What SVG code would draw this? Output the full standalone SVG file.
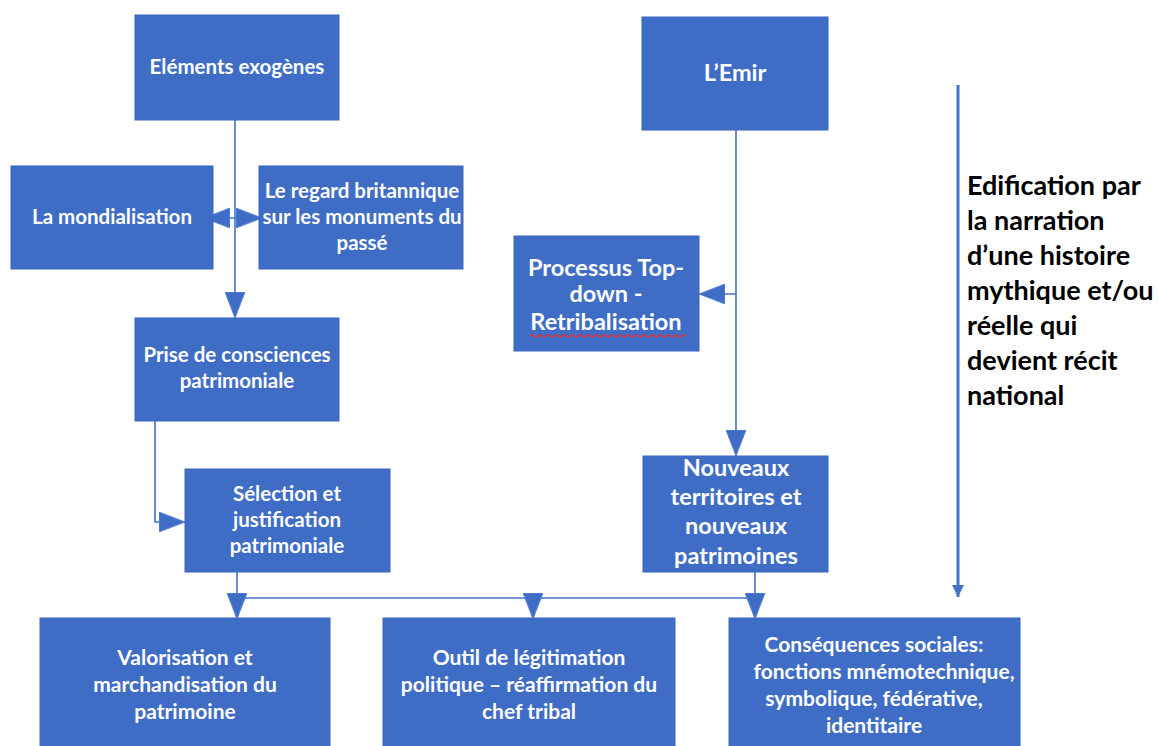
<svg xmlns="http://www.w3.org/2000/svg" width="1159" height="746" viewBox="0 0 1159 746">
<style>
.box{fill:#3F6DC6;stroke:#3A66BC;stroke-width:1}
.t{font-family:Lato,"Liberation Sans",sans-serif;font-weight:700;fill:#fff;text-anchor:middle;font-size:20.5px}
.t2{font-size:23.5px}
.b{font-size:21px}
.c{stroke:#4472C4;stroke-width:1.6;fill:none}
.side{font-family:Lato,"Liberation Sans",sans-serif;font-weight:700;fill:#000;font-size:27px}
</style>
<defs>
<marker id="tri" viewBox="0 0 26 20" refX="26" refY="10" markerWidth="26" markerHeight="20" markerUnits="userSpaceOnUse" orient="auto-start-reverse">
<path d="M0,0 L26,10 L0,20 z" fill="#3F6DC6" stroke="#5A86D6" stroke-width="1"/>
</marker>
<marker id="small" viewBox="0 0 12 12" refX="12" refY="6" markerWidth="12" markerHeight="12" markerUnits="userSpaceOnUse" orient="auto">
<path d="M0,0 L12,6 L0,12 z" fill="#4472C4"/>
</marker>
</defs>
<rect width="1159" height="746" fill="#fff"/>
<g id="connectors">
<path class="c" d="M235,120 V318" marker-end="url(#tri)"/>
<path class="c" d="M204,218 H262" marker-start="url(#tri)" marker-end="url(#tri)"/>
<path class="c" d="M736,130 V456" marker-end="url(#tri)"/>
<path class="c" d="M736,294 H699" marker-end="url(#tri)"/>
<path class="c" d="M155,421 V522 H185" marker-end="url(#tri)"/>
<path class="c" d="M237,572 V619" marker-end="url(#tri)"/>
<path class="c" d="M237,598 H755"/>
<path class="c" d="M533,598 V619" marker-end="url(#tri)"/>
<path class="c" d="M755,572 V619" marker-end="url(#tri)"/>
<path d="M958,85 V597" stroke="#4472C4" stroke-width="3" fill="none" marker-end="url(#small)"/>
</g>
<g id="n-exogenes"><rect class="box" x="135" y="15" width="204" height="105"/><text class="t" x="237" y="74">Eléments exogènes</text></g>
<g id="n-emir"><rect class="box" x="642" y="17" width="186" height="113"/><text class="t t2" x="735" y="81">L’Emir</text></g>
<g id="n-mondialisation"><rect class="box" x="11" y="166" width="202" height="103"/><text class="t" x="112" y="224">La mondialisation</text></g>
<g id="n-regard"><rect class="box" x="259" y="166" width="204" height="103"/><text class="t" x="362" y="198">Le regard britannique</text><text class="t" x="362" y="224">sur les monuments du</text><text class="t" x="362" y="250">passé</text></g>
<g id="n-processus"><rect class="box" x="514" y="236" width="185" height="115"/><text class="t t2" x="606" y="276">Processus Top-</text><text class="t t2" x="606" y="302">down -</text><text class="t t2" x="606" y="330">Retribalisation</text><path d="M530,336 q2,-2 4,0 t4,0 t4,0 t4,0 t4,0 t4,0 t4,0 t4,0 t4,0 t4,0 t4,0 t4,0 t4,0 t4,0 t4,0 t4,0 t4,0 t4,0 t4,0 t4,0 t4,0 t4,0 t4,0 t4,0 t4,0 t4,0 t4,0 t4,0 t4,0 t4,0 t4,0 t4,0 t4,0 t4,0 t4,0 t4,0 t4,0 t4,0 t4,0" fill="none" stroke="#E0303A" stroke-width="1.2"/></g>
<g id="n-prise"><rect class="box" x="135" y="318" width="204" height="103"/><text class="t" x="237" y="362">Prise de consciences</text><text class="t" x="237" y="388">patrimoniale</text></g>
<g id="n-selection"><rect class="box" x="185" y="469" width="205" height="103"/><text class="t" x="287" y="501">Sélection et</text><text class="t" x="287" y="527">justification</text><text class="t" x="287" y="553">patrimoniale</text></g>
<g id="n-nouveaux"><rect class="box" x="643" y="456" width="185" height="116"/><text class="t t2" x="736" y="476">Nouveaux</text><text class="t t2" x="736" y="505">territoires et</text><text class="t t2" x="736" y="534">nouveaux</text><text class="t t2" x="736" y="564">patrimoines</text></g>
<g id="n-valorisation"><rect class="box" x="40" y="618" width="290" height="130"/><text class="t b" x="185" y="665">Valorisation et</text><text class="t b" x="185" y="692">marchandisation du</text><text class="t b" x="185" y="719">patrimoine</text></g>
<g id="n-outil"><rect class="box" x="383" y="618" width="292" height="130"/><text class="t b" x="529" y="665">Outil de légitimation</text><text class="t b" x="529" y="692">politique – réaffirmation du</text><text class="t b" x="529" y="719">chef tribal</text></g>
<g id="n-consequences"><rect class="box" x="729" y="618" width="291" height="130"/><text class="t b" x="874" y="652">Conséquences sociales:</text><text class="t b" x="884" y="679">fonctions mnémotechnique,</text><text class="t b" x="874" y="706">symbolique, fédérative,</text><text class="t b" x="874" y="733">identitaire</text></g>
<g id="n-side" class="side">
<text x="967" y="195">Edification par</text>
<text x="967" y="230">la narration</text>
<text x="967" y="265">d’une histoire</text>
<text x="967" y="300">mythique et/ou</text>
<text x="967" y="335">réelle qui</text>
<text x="967" y="370">devient récit</text>
<text x="967" y="405">national</text>
</g>
</svg>
